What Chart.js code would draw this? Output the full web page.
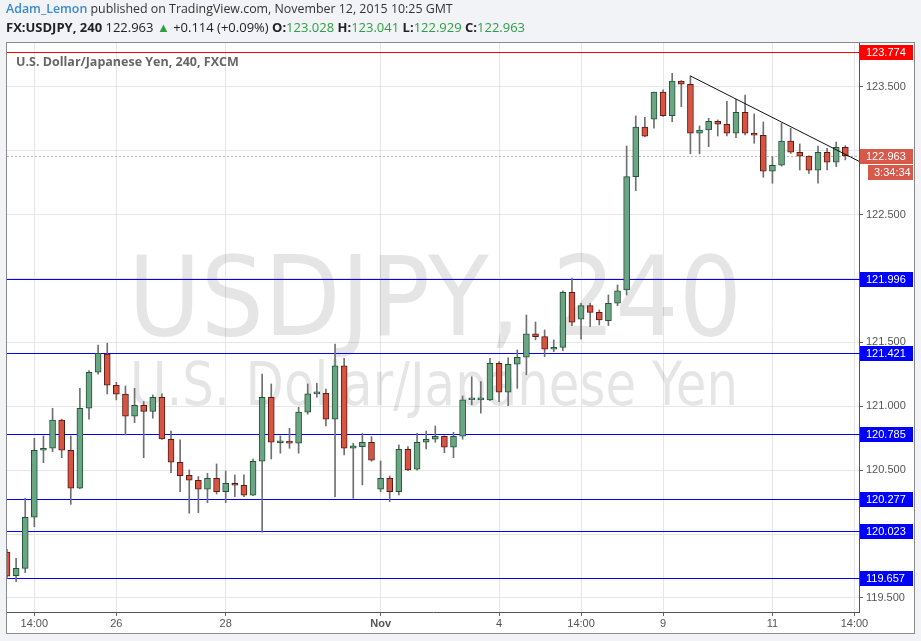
<!DOCTYPE html>
<html>
<head>
<meta charset="utf-8">
<title>USDJPY, 240</title>
<script src="https://cdn.jsdelivr.net/npm/chart.js@4.4.0/dist/chart.umd.min.js"></script>
<style>
  html, body { margin: 0; padding: 0; background: #f1f3f6; }
  body { width: 921px; height: 641px; position: relative; overflow: hidden; font-family: "Open Sans", sans-serif; }
  #wrap { position: absolute; left: 0; top: 0; width: 921px; height: 641px; }
  .hdr { position: absolute; left: 6px; line-height: 18px; white-space: nowrap; color: #333; }
  #line1 { top: 0px; font-size: 12.4px; }
  #line2 { top: 18px; font-size: 13px; color: #222; }
  .user { color: #3a8bd0; font-weight: 600; }
  .up { color: #2ea043; }
  .hdr b { font-weight: 700; color: #222; }
</style>
</head>
<body>
<div id="wrap"><canvas id="chart" width="921" height="641"></canvas></div>
<div class="hdr" id="line1"><span class="user">Adam_Lemon</span> published on TradingView.com, November 12, 2015 10:25 GMT</div>
<div class="hdr" id="line2"><b>FX:USDJPY, 240</b> 122.963 <span class="up">&#9650;</span> +0.114 (+0.09%) <b>O:</b><span class="up">123.028</span> <b>H:</b><span class="up">123.041</span> <b>L:</b><span class="up">122.929</span> <b>C:</b><span class="up">122.963</span></div>
<script>
// 4h candles
const opens = [119.86, 119.675, 119.732, 120.132, 120.656, 120.672, 120.893, 120.656, 120.359, 120.985,
  121.267, 121.408, 121.165, 121.095, 120.922, 121.008, 120.961, 121.071, 120.742, 120.562,
  120.460, 120.421, 120.351, 120.437, 120.332, 120.398, 120.382, 120.304, 120.570, 121.071,
  120.715, 120.722, 120.712, 120.954, 121.097, 121.102, 120.899, 121.316, 120.672, 120.684,
  120.719, 120.351, 120.437, 120.332, 120.664, 120.508, 120.719, 120.742, 120.766, 120.680,
  120.766, 121.050, 121.050, 121.050, 121.337, 121.110, 121.329, 121.384, 121.567, 121.545,
  121.447, 121.462, 121.893, 121.682, 121.788, 121.736, 121.671, 121.807, 121.911, 122.798,
  123.185, 123.247, 123.459, 123.275, 123.545, 123.521, 123.138, 123.163, 123.231, 123.208,
  123.138, 123.302, 123.138, 123.122, 122.840, 122.887, 123.077, 122.989, 122.958, 122.848,
  122.989, 122.911, 123.028];
const highs = [119.88, 119.811, 120.280, 120.750, 120.768, 120.985, 120.900, 120.768, 121.141, 121.279,
  121.480, 121.494, 121.188, 121.159, 121.141, 121.037, 121.089, 121.097, 120.807, 120.737,
  120.502, 120.450, 120.476, 120.549, 120.494, 120.463, 120.463, 120.588, 121.253, 121.175,
  120.768, 120.828, 120.993, 121.175, 121.181, 121.134, 121.488, 121.376, 120.711, 120.789,
  120.763, 120.572, 120.455, 120.698, 120.684, 120.789, 120.807, 120.846, 120.770, 120.797,
  121.081, 121.232, 121.193, 121.376, 121.350, 121.381, 121.441, 121.715, 121.660, 121.598,
  121.520, 121.905, 122.003, 121.807, 121.807, 121.754, 121.872, 121.950, 123.038, 123.273,
  123.263, 123.460, 123.477, 123.607, 123.550, 123.586, 123.195, 123.255, 123.242, 123.388,
  123.404, 123.437, 123.289, 123.226, 122.954, 123.216, 123.177, 123.054, 122.960, 123.038,
  123.020, 123.069, 123.041];
const lows = [119.65, 119.628, 119.698, 120.058, 120.559, 120.645, 120.598, 120.233, 120.355, 120.899,
  121.251, 121.097, 121.050, 120.776, 120.872, 120.598, 120.907, 120.740, 120.481, 120.332,
  120.163, 120.168, 120.246, 120.314, 120.246, 120.293, 120.293, 120.300, 120.014, 120.588,
  120.633, 120.672, 120.633, 120.938, 121.071, 120.846, 120.293, 120.619, 120.280, 120.385,
  120.570, 120.332, 120.254, 120.306, 120.497, 120.500, 120.666, 120.719, 120.637, 120.598,
  120.742, 121.011, 120.946, 121.045, 121.037, 121.005, 121.141, 121.246, 121.520, 121.389,
  121.428, 121.436, 121.632, 121.525, 121.624, 121.637, 121.632, 121.788, 121.872, 122.688,
  123.110, 123.177, 123.270, 123.228, 123.346, 122.976, 122.976, 123.033, 123.116, 123.116,
  123.103, 123.124, 123.059, 122.793, 122.746, 122.880, 122.980, 122.850, 122.824, 122.746,
  122.850, 122.876, 122.929];
const closes = [119.67, 119.732, 120.132, 120.656, 120.672, 120.893, 120.656, 120.359, 120.985, 121.267,
  121.415, 121.165, 121.095, 120.922, 121.008, 120.961, 121.071, 120.745, 120.562, 120.457,
  120.421, 120.351, 120.437, 120.332, 120.398, 120.382, 120.304, 120.570, 121.071, 120.719,
  120.722, 120.712, 120.954, 121.097, 121.105, 120.899, 121.316, 120.672, 120.690, 120.719,
  120.578, 120.437, 120.332, 120.664, 120.502, 120.719, 120.742, 120.766, 120.680, 120.766,
  121.050, 121.052, 121.052, 121.337, 121.110, 121.329, 121.384, 121.567, 121.545, 121.447,
  121.462, 121.893, 121.658, 121.788, 121.736, 121.676, 121.807, 121.905, 122.798, 123.185,
  123.114, 123.459, 123.275, 123.545, 123.521, 123.138, 123.163, 123.231, 123.208, 123.138,
  123.302, 123.138, 123.122, 122.840, 122.887, 123.077, 122.989, 122.958, 122.848, 122.989,
  122.911, 123.028, 122.963];

const xTickPos = [3, 12, 24, 41, 54, 63, 72, 84, 93];
const xTickText = ["14:00", "26", "28", "Nov", "4", "14:00", "9", "11", "14:00"];
const yTickValues = [119.5, 120, 120.5, 121, 121.5, 122, 122.5, 123, 123.5];

const supportLevels = [121.996, 121.421, 120.785, 120.277, 120.023, 119.657];
const highLevel = 123.774;
const lastPrice = 122.963;
const countdown = "3:34:34";
const trendX = [75, 93.5];
const trendY = [123.586, 122.918];

const UP = "#6ba583", UP_LINE = "#225437";
const DOWN = "#d75442", DOWN_LINE = "#5b1a13";
const BLUE = "#0000ff";

Chart.defaults.font.family = '"Liberation Sans", Arial, sans-serif';
Chart.defaults.font.size = 11;

const idx = opens.map((_, i) => i);
const wicks = idx.map(i => ({ x: i, y: [lows[i], highs[i]] }));
const bodies = idx.map(i => ({ x: i, y: [opens[i], closes[i]] }));
const bodyFill = idx.map(i => closes[i] >= opens[i] ? UP : DOWN);
const bodyLine = idx.map(i => closes[i] >= opens[i] ? UP_LINE : DOWN_LINE);
const trend = trendX.map((x, i) => ({ x: x, y: trendY[i] }));

function stretchedText(c, text, cx, baseline, size, width) {
  c.save();
  c.font = size + 'px "DejaVu Sans"';
  const w = c.measureText(text).width;
  c.translate(cx, baseline);
  c.scale(width / w, 1);
  c.textAlign = "center";
  c.textBaseline = "alphabetic";
  c.fillText(text, 0, 0);
  c.restore();
}

function priceBox(c, yPix, x0, x1, bg, text) {
  c.fillStyle = bg;
  c.fillRect(x0, Math.round(yPix) - 7, x1 - x0, 15);
  c.fillStyle = "#fff";
  c.font = '11px "Liberation Sans", Arial, sans-serif';
  c.textBaseline = "middle";
  c.textAlign = "left";
  c.fillText(text, x0 + 6, Math.round(yPix) + 1);
}

const tvPlugin = {
  id: "tvLook",
  beforeDraw(chart) {
    const c = chart.ctx;
    c.save();
    c.fillStyle = "#fff";
    c.fillRect(6, 42, 909, 592);
    c.restore();
  },
  beforeDatasetsDraw(chart) {
    const { ctx: c, chartArea: a, scales: { y } } = chart;
    c.save();
    c.beginPath();
    c.rect(a.left, a.top, a.right - a.left, a.bottom - a.top);
    c.clip();
    c.fillStyle = "rgba(0,0,0,0.1)";
    stretchedText(c, "USDJPY, 240", (a.left + a.right) / 2 + 2, 335, 110, 614);
    stretchedText(c, "U.S. Dollar/Japanese Yen", (a.left + a.right) / 2 + 1, 405, 60, 608);
    c.strokeStyle = "#cfaea6";
    c.lineWidth = 1;
    c.setLineDash([2, 2]);
    const lp = Math.round(y.getPixelForValue(lastPrice)) + 0.5;
    c.beginPath(); c.moveTo(a.left, lp); c.lineTo(a.right, lp); c.stroke();
    c.restore();

    c.save();
    c.lineWidth = 1;
    supportLevels.forEach(v => {
      const py = Math.round(y.getPixelForValue(v)) + 0.5;
      c.strokeStyle = BLUE;
      c.beginPath(); c.moveTo(a.left, py); c.lineTo(a.right + 2, py); c.stroke();
    });
    const hy = Math.round(y.getPixelForValue(highLevel)) + 0.5;
    c.strokeStyle = "#ff0000";
    c.beginPath(); c.moveTo(a.left, hy); c.lineTo(a.right + 2, hy); c.stroke();
    c.restore();
  },
  afterDraw(chart) {
    const { ctx: c, chartArea: a, scales: { y } } = chart;
    const x0 = a.right + 1, x1 = y.right - 2;
    c.save();
    priceBox(c, y.getPixelForValue(highLevel), x0, x1, "#ff0000", highLevel.toFixed(3));
    supportLevels.forEach(v => priceBox(c, y.getPixelForValue(v), x0, x1, BLUE, v.toFixed(3)));
    const lp = y.getPixelForValue(lastPrice);
    priceBox(c, lp, x0, x1, "#d6594a", lastPrice.toFixed(3));
    priceBox(c, lp + 16, x0 + 8, x1, "#d6594a", countdown);

    c.fillStyle = "#666";
    c.font = 'bold 12.5px "Open Sans", sans-serif';
    c.textBaseline = "alphabetic";
    c.textAlign = "left";
    c.fillText("U.S. Dollar/Japanese Yen, 240, FXCM", 16, 66);

    c.strokeStyle = "#8a8a8a";
    c.lineWidth = 1;
    c.strokeRect(6.5, 42.5, 908, 591);
    c.restore();
  }
};

// tick labels that sit under the last-price box are not shown
function yLabel(v) {
  return Math.abs(v - lastPrice) < 0.06 ? "" : v.toFixed(3);
}

new Chart(document.getElementById("chart"), {
  type: "bar",
  data: {
    datasets: [
      {
        type: "line",
        data: trend,
        borderColor: "#111",
        borderWidth: 1,
        pointRadius: 0,
        order: 0
      },
      {
        data: bodies,
        backgroundColor: bodyFill,
        borderColor: bodyLine,
        borderWidth: 1,
        borderSkipped: false,
        barThickness: 6,
        minBarLength: 2,
        grouped: false,
        order: 1
      },
      {
        data: wicks,
        backgroundColor: "#707070",
        borderWidth: 0,
        barThickness: 1,
        grouped: false,
        order: 2
      }
    ]
  },
  options: {
    responsive: false,
    animation: false,
    layout: { padding: { left: 7, top: 43, right: 6, bottom: 7 } },
    plugins: { legend: { display: false }, tooltip: { enabled: false } },
    scales: {
      x: {
        type: "linear",
        min: 0,
        max: 93.5,
        offset: false,
        afterBuildTicks: axis => { axis.ticks = xTickPos.map(v => ({ value: v })); },
        afterFit: axis => { axis.height = 22; },
        grid: { color: "#e6e6e6", tickColor: "#666", tickLength: 4, offset: false },
        border: { color: "#555" },
        ticks: {
          autoSkip: false,
          maxRotation: 0,
          padding: 1,
          color: "#555",
          callback: v => xTickText[xTickPos.indexOf(v)],
          font: c => ({ size: 11, weight: c.tick && c.tick.label === "Nov" ? "bold" : "normal" })
        }
      },
      y: {
        position: "right",
        min: 119.39,
        max: 123.844,
        afterBuildTicks: axis => { axis.ticks = yTickValues.map(v => ({ value: v })); },
        afterFit: axis => { axis.width = 56; },
        grid: { color: "#e6e6e6", tickColor: "#666", tickLength: 4 },
        border: { color: "#555" },
        ticks: {
          padding: 3,
          color: "#555",
          callback: v => yLabel(v)
        }
      }
    }
  },
  plugins: [tvPlugin]
});
</script>
</body>
</html>
